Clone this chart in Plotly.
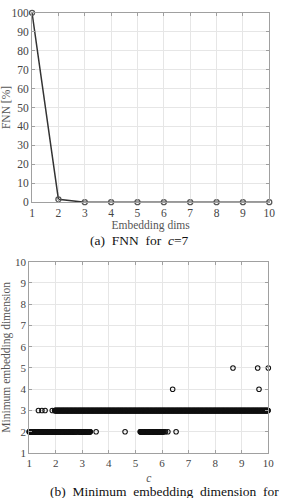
import numpy as np
import plotly.graph_objects as go

# ---- data: (a) FNN for c=7 ----
emb_dims = [1, 2, 3, 4, 5, 6, 7, 8, 9, 10]
fnn_pct = [100, 1.5, 0, 0, 0, 0, 0, 0, 0, 0]

# ---- data: (b) minimum embedding dimension vs c ----
# dense runs of c values (start, end) read from the picture, and isolated points
dim2_runs = [(1.00, 2.78), (2.88, 3.30), (5.18, 6.04)]
dim2_single = [2.81, 2.84, 3.52, 4.61, 6.08, 6.13, 6.22, 6.53]
dim3_runs = [(1.96, 10.00)]
dim3_single = [1.35, 1.48, 1.60, 1.87]
dim4_single = [6.40, 9.65]
dim5_single = [8.67, 9.60, 10.00]
c_step = 0.01

def expand(runs, singles):
    xs = []
    for a, b in runs:
        xs.extend(np.arange(a, b + 1e-9, c_step).tolist())
    xs.extend(singles)
    return xs

c2 = expand(dim2_runs, dim2_single)
c3 = expand(dim3_runs, dim3_single)
c4 = expand([], dim4_single)
c5 = expand([], dim5_single)

W, H = 284, 498
SERIF = "Liberation Serif, Times New Roman, serif"

def px_x(p):
    return p / W

def px_y(p):
    return 1 - p / H

fig = go.Figure()

fig.add_trace(go.Scatter(
    x=emb_dims, y=fnn_pct, mode="lines+markers",
    line=dict(color="#333333", width=1.5),
    marker=dict(symbol="circle-open", size=5, color="#555555", line=dict(width=1.3)),
    cliponaxis=False, xaxis="x", yaxis="y", showlegend=False))

for cs, d in [(c2, 2), (c3, 3), (c4, 4), (c5, 5)]:
    fig.add_trace(go.Scatter(
        x=cs, y=[d] * len(cs), mode="markers",
        marker=dict(symbol="circle-open", size=4.5, color="#111111", line=dict(width=1.1)),
        cliponaxis=False, xaxis="x2", yaxis="y2", showlegend=False))

def axis_common(fs):
    return dict(
        showline=True, mirror="ticks", linecolor="#a0a0a0", linewidth=1,
        ticks="inside", ticklen=3, tickcolor="#a0a0a0",
        showgrid=True, gridcolor="#e6e6e6", gridwidth=1, zeroline=False,
        tickfont=dict(family=SERIF, size=fs, color="#444444"),
    )

TF = dict(family=SERIF, size=11.5, color="#555555")

fig.update_layout(
    width=W, height=H, margin=dict(l=0, r=0, t=0, b=0),
    paper_bgcolor="white", plot_bgcolor="white",
    xaxis=dict(domain=[px_x(30), px_x(275)], range=[1, 10], tickvals=emb_dims,
               title=dict(text="Embedding dims", standoff=1, font=TF),
               anchor="y", **axis_common(11.5)),
    yaxis=dict(domain=[px_y(201), px_y(7)], range=[0, 100], dtick=10,
               title=dict(text="FNN [%]", standoff=1, font=TF),
               anchor="x", **axis_common(11.5)),
    xaxis2=dict(domain=[px_x(27), px_x(274)], range=[1, 10], dtick=1,
                title=dict(text="<i>c</i>", standoff=5, font=TF),
                anchor="y2", **axis_common(11)),
    yaxis2=dict(domain=[px_y(458), px_y(262)], range=[1, 10], dtick=1,
                title=dict(text="Minimum embedding dimension", standoff=3, font=TF),
                anchor="x2", **axis_common(11)),
    annotations=[
        dict(text="(a)&nbsp; FNN&nbsp; for&nbsp; <i>c</i>=7", x=px_x(141), y=px_y(240),
             xref="paper", yref="paper", xanchor="center", yanchor="middle",
             showarrow=False, font=dict(family=SERIF, size=13.5, color="#111111")),
        dict(text="(b)&nbsp; Minimum&nbsp; embedding&nbsp; dimension&nbsp; for",
             x=px_x(167), y=px_y(497), xref="paper", yref="paper",
             xanchor="center", yanchor="middle",
             showarrow=False, font=dict(family=SERIF, size=13.5, color="#111111")),
    ],
)

fig.write_html("out.html")
